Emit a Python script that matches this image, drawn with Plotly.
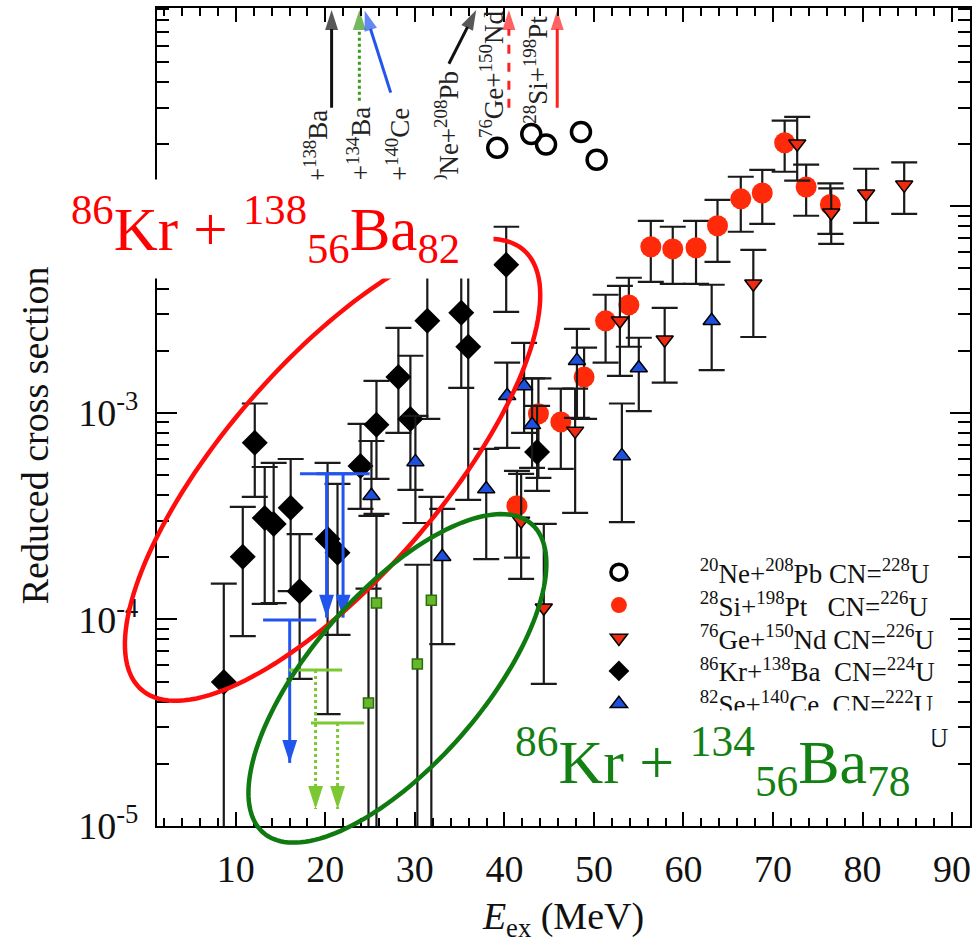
import numpy as np
import plotly.graph_objects as go

FONT = "Liberation Serif"

# ---------------- data ----------------
# 20Ne+208Pb  CN=228U  (open circles)
ne_E = [39.2, 43.0, 44.65, 48.55, 50.3]
ne_sig = [1.92e-2, 2.24e-2, 1.99e-2, 2.29e-2, 1.68e-2]

# 28Si+198Pt  CN=226U  (red circles)
si_E = [41.4, 43.8, 46.3, 48.9, 51.3, 53.9, 56.35, 58.8, 61.4, 63.8, 66.4, 68.8, 71.3, 73.7, 76.4]
si_sig = [3.55e-4, 9.9e-4, 9.04e-4, 1.49e-3, 2.79e-3, 3.33e-3, 6.37e-3, 6.22e-3, 6.30e-3, 8.05e-3,
          1.087e-2, 1.16e-2, 2.03e-2, 1.24e-2, 1.02e-2]
si_hi = [5.24e-4, 1.47e-3, 1.31e-3, 2.07e-3, 3.73e-3, 4.51e-3, 8.51e-3, 7.96e-3, 8.51e-3, 1.074e-2,
         1.39e-2, 1.50e-2, 2.60e-2, 1.59e-2, 1.29e-2]
si_lo = [1.99e-4, 4.84e-4, 5.36e-4, 9.35e-4, 1.75e-3, 2.09e-3, 4.31e-3, 4.21e-3, 4.21e-3, 5.38e-3,
         7.53e-3, 8.22e-3, 1.47e-2, 9.0e-3, 7.36e-3]

# 76Ge+150Nd  CN=226U  (down triangles)
ge_E = [41.87, 44.4, 47.9, 52.9, 57.9, 67.8, 72.7, 76.5, 80.4, 84.65]
ge_sig = [3.0e-4, 1.14e-4, 8.18e-4, 2.79e-3, 2.26e-3, 4.22e-3, 2.01e-2, 9.31e-3, 1.15e-2, 1.27e-2]
ge_hi = [5.07e-4, 2.90e-4, 1.31e-3, 4.12e-3, 3.22e-3, 6.15e-3, 2.71e-2, 1.22e-2, 1.52e-2, 1.63e-2]
ge_lo = [1.57e-4, 4.88e-5, 3.28e-4, 1.51e-3, 1.40e-3, 2.33e-3, 1.33e-2, 6.58e-3, 8.32e-3, 9.2e-3]

# 86Kr+138Ba  CN=224U  (diamonds)
kr_E = [8.66, 10.78, 12.12, 13.23, 14.23, 16.13, 17.13, 20.25, 21.36, 23.93, 25.71, 28.16, 29.5,
        31.39, 35.18, 35.96, 40.2, 43.65]
kr_sig = [4.98e-5, 2.01e-4, 7.16e-4, 3.10e-4, 2.90e-4, 3.47e-4, 1.37e-4, 2.45e-4, 2.10e-4, 5.53e-4,
          8.75e-4, 1.49e-3, 9.35e-4, 2.79e-3, 3.05e-3, 2.09e-3, 5.21e-3, 6.47e-4]
kr_hi = [1.49e-4, 3.51e-4, 1.11e-3, 5.47e-4, 5.73e-4, 5.98e-4, 2.59e-4, 5.73e-4, 4.53e-4, 8.85e-4,
         1.43e-3, 2.58e-3, 1.89e-3, 6.1e-3, 5.5e-3, 5.0e-3, 7.96e-3, 1.08e-3]
kr_lo = [5e-6, 8.31e-5, 3.92e-4, 1.19e-4, 1.20e-4, 1.37e-4, 5.15e-5, 3.48e-5, 8.41e-5, 3.43e-4,
         4.79e-4, 8.0e-4, 4.24e-4, 9.35e-4, 1.32e-3, 3.79e-4, 3.08e-3, 4.19e-4]

# 82Se+140Ce  CN=222U  (blue triangles)
se_E = [25.15, 30.06, 33.06, 37.97, 40.31, 42.2, 43.09, 48.1, 53.12, 55.01, 63.15]
se_sig = [3.97e-4, 5.79e-4, 2.01e-4, 4.28e-4, 1.21e-3, 1.35e-3, 8.75e-4, 1.79e-3, 6.19e-4, 1.65e-3, 2.79e-3]
se_hi = [7.31e-4, 9.67e-4, 3.43e-4, 6.7e-4, 1.75e-3, 2.18e-3, 1.47e-3, 2.55e-3, 1.11e-3, 2.31e-3, 4.17e-3]
se_lo = [3.17e-4, 2.93e-4, 7.6e-5, 1.96e-4, 6.77e-4, 8.0e-4, 5.42e-4, 9.46e-4, 2.96e-4, 1.02e-3, 1.61e-3]
se_lim_E = [16.02, 20.14, 21.98]
se_lim_top = [9.95e-5, 5.07e-4, 5.07e-4]
se_lim_tip = [2.02e-5, 1.02e-4, 1.02e-4]

# 86Kr+134Ba  CN=220U  (green squares)
k4_E = [24.82, 25.71, 30.28, 31.84]
k4_sig = [3.94e-5, 1.20e-4, 6.09e-5, 1.24e-4]
k4_hi = [1.41e-4, 3.24e-4, 1.84e-4, 3.92e-4]
k4_lo = [5e-6, 5e-6, 5e-6, 5e-6]
k4_lim_E = [18.91, 21.37]
k4_lim_top = [5.69e-5, 3.15e-5]
k4_lim_tip = [1.21e-5, 1.21e-5]

# arrows at the top of the frame (base -> tip)
top_names = ["Kr138", "Kr134", "Se140", "Ne208", "Ge150", "Si198"]
top_E0 = [20.7, 23.8, 27.3, 33.8, 40.5, 45.9]
top_y0 = [0.030, 0.0324, 0.0355, 0.049, 0.030, 0.030]
top_E1 = [20.7, 23.8, 24.4, 36.85, 40.5, 45.9]
top_y1 = [0.0891, 0.0891, 0.0885, 0.0891, 0.0891, 0.0891]
top_col = ["#111111", "#3a9a1a", "#2255ee", "#111111", "#ff2020", "#ff2020"]
top_dash = ["solid", "dot", "solid", "solid", "dash", "solid"]
top_lab = ["<sup>86</sup>Kr+<sup>138</sup>Ba", "<sup>86</sup>Kr+<sup>134</sup>Ba",
           "<sup>82</sup>Se+<sup>140</sup>Ce", "<sup>20</sup>Ne+<sup>208</sup>Pb",
           "<sup>76</sup>Ge+<sup>150</sup>Nd", "<sup>28</sup>Si+<sup>198</sup>Pt"]
top_lab_E = [19.0, 23.8, 28.05, 33.6, 38.6, 43.5]
top_lab_y = [0.0300, 0.0310, 0.0305, 0.0460, 0.0905, 0.0853]

x_ticks = [10, 20, 30, 40, 50, 60, 70, 80, 90]
y_ticks = [1e-5, 1e-4, 1e-3, 1e-2, 1e-1]
y_ticktext = ["10<sup>-5</sup>", "10<sup>-4</sup>", "10<sup>-3</sup>", "10<sup>-2</sup>", "10<sup>-1</sup>"]

# ---------------- figure ----------------
W, H = 978, 943
L, R, T, B = 157, 6, 6, 117
PW, PH = W - L - R, H - T - B

EB = dict(type="data", symmetric=False, color="#1a1a1a", thickness=2.2, width=13)
NB = "\u00a0"
PAD = NB * 9


def errs(v, hi, lo):
    return [h - a for a, h in zip(v, hi)], [a - l for a, l in zip(v, lo)]


def px2paper(px, py):
    return (px - L) / PW, 1 - (py - T) / PH


fig = go.Figure()

fig.add_trace(go.Scatter(x=ne_E, y=ne_sig, mode="markers", legend="legend",
                         name=PAD + "<sup>20</sup>Ne+<sup>208</sup>Pb CN=<sup>228</sup>U",
                         marker=dict(symbol="circle-open", size=19, color="black", line=dict(width=3.5, color="black"))))

p, m = errs(si_sig, si_hi, si_lo)
fig.add_trace(go.Scatter(x=si_E, y=si_sig, mode="markers", legend="legend2",
                         name=PAD + "<sup>28</sup>Si+<sup>198</sup>Pt" + NB * 3 + "CN=<sup>226</sup>U",
                         error_y=dict(EB, array=p, arrayminus=m),
                         marker=dict(symbol="circle", size=21, color="#ff2a0a", line=dict(width=0))))

p, m = errs(ge_sig, ge_hi, ge_lo)
fig.add_trace(go.Scatter(x=ge_E, y=ge_sig, mode="markers", legend="legend3",
                         name=PAD + "<sup>76</sup>Ge+<sup>150</sup>Nd CN=<sup>226</sup>U",
                         error_y=dict(EB, array=p, arrayminus=m),
                         marker=dict(symbol="triangle-down", size=15, color="#ee2a10", line=dict(width=1.5, color="black"))))

p, m = errs(kr_sig, kr_hi, kr_lo)
fig.add_trace(go.Scatter(x=kr_E, y=kr_sig, mode="markers", legend="legend4",
                         name=PAD + "<sup>86</sup>Kr+<sup>138</sup>Ba" + NB * 2 + "CN=<sup>224</sup>U",
                         error_y=dict(EB, array=p, arrayminus=m),
                         marker=dict(symbol="diamond", size=20, color="black")))

p, m = errs(se_sig, se_hi, se_lo)
fig.add_trace(go.Scatter(x=se_E, y=se_sig, mode="markers", legend="legend5",
                         name=PAD + "<sup>82</sup>Se+<sup>140</sup>Ce" + NB * 2 + "CN=<sup>222</sup>U",
                         error_y=dict(EB, array=p, arrayminus=m),
                         marker=dict(symbol="triangle-up", size=15, color="#1e50e0", line=dict(width=1.5, color="black"))))

p, m = errs(k4_sig, k4_hi, k4_lo)
fig.add_trace(go.Scatter(x=k4_E, y=k4_sig, mode="markers", legend="legend6",
                         name=PAD + "<sup>86</sup>Kr+<sup>134</sup>Ba" + NB * 4 + "CN=<sup>220</sup>U",
                         error_y=dict(EB, array=p, arrayminus=m),
                         marker=dict(symbol="square", size=10, color="#66b82a", line=dict(width=1.5, color="#2e6e10"))))


def upper_limits(Es, tops, tips, col, dash):
    for e, t, b in zip(Es, tops, tips):
        fig.add_trace(go.Scatter(x=[e, e], y=[t, b], mode="lines", showlegend=False,
                                 line=dict(color=col, width=3, dash=dash)))
    fig.add_trace(go.Scatter(x=Es, y=tops, mode="markers", showlegend=False,
                             marker=dict(symbol="line-ew", size=38, line=dict(width=3, color=col))))
    fig.add_trace(go.Scatter(x=Es, y=tips, mode="markers", showlegend=False,
                             marker=dict(symbol="arrow", angle=180, size=24, color=col, line=dict(width=0))))


upper_limits(se_lim_E, se_lim_top, se_lim_tip, "#2255ee", "solid")
upper_limits(k4_lim_E, k4_lim_top, k4_lim_tip, "#7cc832", "dot")

for i in range(len(top_names)):
    fig.add_trace(go.Scatter(x=[top_E0[i], top_E1[i]], y=[top_y0[i], top_y1[i]], mode="lines+markers",
                             showlegend=False, line=dict(color=top_col[i], width=3, dash=top_dash[i]),
                             marker=dict(symbol=["circle", "arrow"], size=[0, 21], angleref="previous",
                                         color=top_col[i], line=dict(width=0))))

# rotated labels under the top arrows
for i in range(len(top_names)):
    fig.add_annotation(x=top_lab_E[i], y=np.log10(top_lab_y[i]), xref="x", yref="y", text=top_lab[i],
                       textangle=-90, showarrow=False, xanchor="center", yanchor="top",
                       font=dict(family=FONT, size=27, color="#222"))


def ellipse_path(cx, cy, a, b, ang):
    t = np.linspace(0, 2 * np.pi, 160)
    th = np.radians(ang)
    xs = cx + a * np.cos(t) * np.cos(th) + b * np.sin(t) * np.sin(th)
    ys = cy - a * np.cos(t) * np.sin(th) + b * np.sin(t) * np.cos(th)
    pts = [px2paper(x, y) for x, y in zip(xs, ys)]
    return "M " + " L ".join(f"{x:.5f},{y:.5f}" for x, y in pts) + " Z"


fig.add_shape(type="path", xref="paper", yref="paper", path=ellipse_path(333, 469, 292, 108, 49),
              line=dict(color="#ff0d0d", width=4.5), layer="above")
fig.add_shape(type="path", xref="paper", yref="paper", path=ellipse_path(398, 678, 205, 86, 49),
              line=dict(color="#0f7a0f", width=4.5), layer="above")

# y-axis title
tx, ty = px2paper(35, 434)
fig.add_annotation(xref="paper", yref="paper", x=tx, y=ty, xanchor="center", yanchor="middle",
                   text="Reduced cross section", textangle=-90, showarrow=False,
                   font=dict(family=FONT, size=38, color="#111"))

# white boxes with the big labels
bx, by = px2paper(70, 177)
fig.add_annotation(xref="paper", yref="paper", x=bx, y=by, xanchor="left", yanchor="top",
                   width=422, height=98, align="left", valign="middle", bgcolor="white", borderpad=0,
                   showarrow=False,
                   text="<sup>86</sup>Kr + <sup>138</sup><sub>56</sub>Ba<sub>82</sub>",
                   font=dict(family=FONT, size=61, color="#ff0000"))
gx, gy = px2paper(515, 710)
fig.add_annotation(xref="paper", yref="paper", x=gx, y=gy, xanchor="left", yanchor="top",
                   width=417, height=100, align="left", valign="middle", bgcolor="white", borderpad=0,
                   showarrow=False,
                   text="<sup>86</sup>Kr + <sup>134</sup><sub>56</sub>Ba<sub>78</sub>",
                   font=dict(family=FONT, size=62, color="#138013"))

# one legend per row so each row sits where the original has it
row_y = [572, 605, 638, 671, 704, 737]
legends = {}
for k, ry in enumerate(row_y):
    lx, ly = px2paper(600, ry)
    key = "legend" if k == 0 else f"legend{k + 1}"
    legends[key] = dict(x=lx, y=ly, xanchor="left", yanchor="middle", bgcolor="rgba(0,0,0,0)",
                        font=dict(family=FONT, size=27, color="#111"), itemwidth=30)

fig.update_layout(
    width=W, height=H, margin=dict(l=L, r=R, t=T, b=B),
    paper_bgcolor="white", plot_bgcolor="white",
    font=dict(family=FONT, color="#111"),
    showlegend=True,
    **legends,
    xaxis=dict(range=[1.2, 92.0], showline=True, linecolor="black", linewidth=2, mirror="allticks",
               ticks="inside", ticklen=14, tickwidth=2, tickcolor="black", tickvals=x_ticks,
               minor=dict(dtick=2, tick0=0, ticks="inside", ticklen=8, tickwidth=2, tickcolor="black"),
               showgrid=False, zeroline=False, ticklabelstandoff=8,
               tickfont=dict(family=FONT, size=38, color="#111"),
               title=dict(text="<i>E</i><sub>ex</sub> (MeV)", font=dict(family=FONT, size=38, color="#111"),
                          standoff=18)),
    yaxis=dict(type="log", range=[-5.0, -1.04], showline=True, linecolor="black", linewidth=2,
               mirror="allticks", ticks="inside", ticklen=20, tickwidth=2, tickcolor="black",
               tickvals=y_ticks, ticktext=y_ticktext,
               minor=dict(tickvals=[k * 10.0 ** d for d in range(-5, -1) for k in range(2, 10)],
                          ticks="inside", ticklen=12, tickwidth=2, tickcolor="black"),
               showgrid=False, zeroline=False, ticklabelstandoff=9,
               tickfont=dict(family=FONT, size=38, color="#111")),
)

fig.write_html("out.html", config={"displayModeBar": False},
               post_script="document.body.style.margin='0px';")
